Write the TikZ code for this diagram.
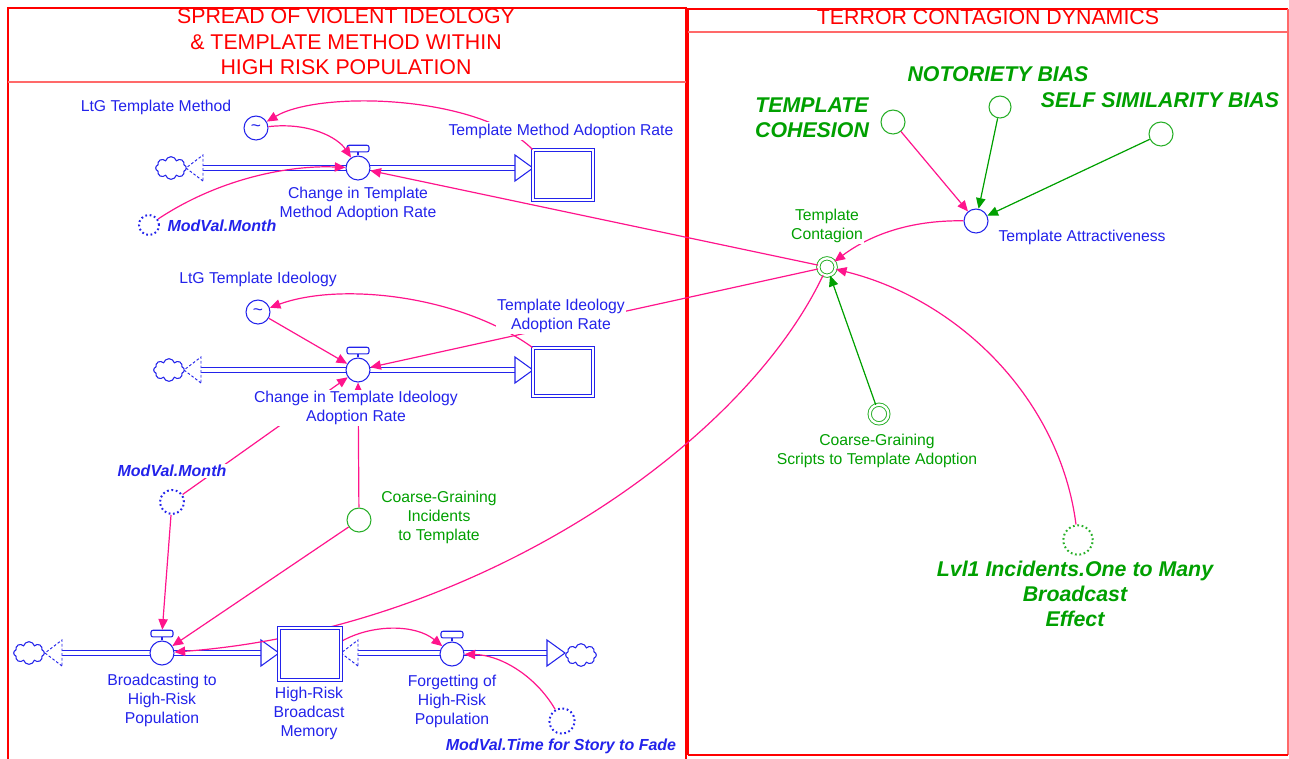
\documentclass[tikz,border=0pt]{standalone}
\usepackage{fontspec}
\setmainfont{Liberation Sans}
\usetikzlibrary{arrows.meta,shapes.symbols}

\definecolor{sdblue}{RGB}{35,35,235}
\definecolor{sdpink}{RGB}{255,20,140}
\definecolor{sdgreen}{RGB}{0,160,0}
\definecolor{sdlgreen}{RGB}{40,175,40}
\definecolor{sdred}{RGB}{255,0,0}
\definecolor{sdlred}{RGB}{255,105,105}

\tikzset{
  pics/srchead/.style={code={\draw[sdblue,line width=0.7pt,dash pattern=on 2pt off 1.5pt,fill=white] (0,-13) -- (-17,0) -- (0,13) -- cycle;}},
  pics/outhead/.style={code={\draw[sdblue,line width=0.8pt,fill=white] (0,-13) -- (18,0) -- (0,13) -- cycle;}}
}

% valve: circle plus handle
\newcommand{\valve}[3]{%
  \node[valve] (#1) at (#2,#3) {};
  \draw[stem] (#1.north) -- ++(0,-3) node[handle,anchor=south] (#1h) {};}

\begin{document}
\begin{tikzpicture}[x=0.75pt,y=0.75pt,yscale=-1,xscale=1,
  pipe/.style={draw=sdblue,line width=0.8pt,double=white,double distance=2.6pt},
  stem/.style={draw=sdblue,line width=0.8pt},
  handle/.style={draw=sdblue,fill=white,rounded corners=1.5pt,minimum width=16.5pt,minimum height=5pt,inner sep=0pt,line width=0.8pt},
  valve/.style={circle,draw=sdblue,fill=white,line width=0.8pt,minimum size=18pt,inner sep=0pt},
  stock/.style={draw=sdblue,double=white,double distance=1.8pt,line width=0.75pt,fill=white,inner sep=0pt},
  cloudy/.style={cloud,cloud puffs=8,aspect=1.4,draw=sdblue,fill=white,line width=0.8pt,minimum width=23pt,minimum height=17pt,inner sep=0pt},
  aux/.style={circle,draw=sdblue,fill=white,line width=0.8pt,minimum size=18pt,inner sep=0pt},
  gaux/.style={aux,draw=sdlgreen},
  gdouble/.style={circle,draw=sdlgreen,double=white,double distance=1.8pt,line width=0.7pt,minimum size=13pt,inner sep=0pt},
  ghost/.style={circle,draw=sdblue,line width=1.5pt,dash pattern=on 1.3pt off 2pt,minimum size=18pt,inner sep=0pt},
  link/.style={draw=sdpink,line width=0.9pt,-{Triangle[length=8pt,width=7pt]}},
  glink/.style={link,draw=sdgreen,fill=sdgreen},
  lbl/.style={text=sdblue,fill=white,inner sep=1pt,align=center,font=\fontsize{11.8}{14.2}\selectfont},
  glbl/.style={lbl,text=sdgreen},
  mv/.style={text=sdblue,fill=white,inner sep=1pt,font=\fontsize{12}{14}\selectfont\bfseries\itshape},
  big/.style={text=sdgreen,fill=white,inner sep=1pt,align=center,font=\fontsize{16}{19}\selectfont\bfseries\itshape},
  ttl/.style={text=sdred,align=center,font=\fontsize{16}{19.2}\selectfont}]
\useasboundingbox (0,0) rectangle (1289,758);

%Panels
\draw[sdred,line width=1.1pt] (8,775) -- (8,8) -- (686,8) -- (686,775);
\draw[sdlred,line width=1.1pt] (8,82) -- (686,82);
\draw[sdred,line width=1.1pt] (688,755) -- (688,9) -- (1288,9);
\draw[sdlred,line width=1.1pt] (688,32) -- (1288,32);
\draw[sdlred,line width=1pt] (1288,9) -- (1288,755);
\draw[sdred,line width=1.1pt] (688,755) -- (1288,755);

%Flow: template method
\coordinate (c1b) at (203,168);
\coordinate (s1b) at (515,168);
\draw[pipe] (c1b) -- (s1b);
\node[cloudy] (c1) at (171,168) {};
\pic at (c1b) {srchead};
\pic at (s1b) {outhead};
\node[stock,minimum width=45pt,minimum height=37.5pt] (s1) at (563,175) {};

%Flow: template ideology
\coordinate (c2b) at (201,370);
\coordinate (s2b) at (515,370);
\draw[pipe] (c2b) -- (s2b);
\node[cloudy] (c2) at (169,370) {};
\pic at (c2b) {srchead};
\pic at (s2b) {outhead};
\node[stock,minimum width=45pt,minimum height=36pt] (s2) at (563,372) {};

%Flow: broadcast memory
\coordinate (c3b) at (62,653);
\coordinate (s3a) at (261,653);
\coordinate (s3b) at (358,653);
\coordinate (c4b) at (547,653);
\draw[pipe] (c3b) -- (s3a);
\draw[pipe] (s3b) -- (c4b);
\node[cloudy] (c3) at (29,653) {};
\node[cloudy] (c4) at (581,655) {};
\pic at (c3b) {srchead};
\pic at (s3a) {outhead};
\pic at (s3b) {srchead};
\pic at (c4b) {outhead};
\node[stock,minimum width=46.5pt,minimum height=39pt] (s3) at (310,654) {};

%Valves
\valve{v1}{358}{168}
\valve{v2}{358}{370}
\valve{v3}{162}{653}
\valve{v4}{452}{654}

%Variables, left
\node[aux] (ltg1) at (256,128) {\fontsize{13}{13}\selectfont\textcolor{sdblue}{\textasciitilde}};
\node[aux] (ltg2) at (258,312) {\fontsize{13}{13}\selectfont\textcolor{sdblue}{\textasciitilde}};
\node[ghost,minimum size=15pt] (m1) at (149,225) {};
\node[ghost] (m2) at (172,502) {};
\node[ghost,minimum size=19pt] (m3) at (562,721) {};
\node[gaux] (cg1) at (359,520) {};

%Variables, right
\node[gdouble] (tc) at (827,267) {};
\node[aux] (ta) at (976,221) {};
\node[gaux] (coh) at (893,122) {};
\node[gaux,minimum size=16.5pt] (nb) at (1000,107) {};
\node[gaux] (ssb) at (1161,134) {};
\node[gdouble,minimum size=14pt] (cgs) at (879,414) {};
\node[ghost,draw=sdlgreen,minimum size=22pt] (lvl) at (1078,540) {};

%Links
\draw[link] (s1.north west) .. controls (480,95) and (320,90) .. (ltg1);
\draw[link] (ltg1) .. controls (310,122) and (338,138) .. (v1);
\draw[link] (m1) .. controls (220,178) and (290,165) .. (v1);
\draw[link] (tc) -- (v1);
\draw[link] (s2.north west) .. controls (460,295) and (340,282) .. (ltg2);
\draw[link] (ltg2) -- (v2);
\draw[link] (tc) -- (v2);
\draw[link] (cg1) -- (v2);
\draw[link] (m2) -- (v2);
\draw[link] (m2) -- (v3h);
\draw[link] (cg1) -- (v3);
\draw[link] (tc) .. controls (740,450) and (470,630) .. (v3);
\draw[link] (s3.22) .. controls (372,624) and (415,624) .. (v4);
\draw[link] (m3) .. controls (535,675) and (500,655) .. (v4);
\draw[link] (coh) -- (ta);
\draw[glink] (nb) -- (ta);
\draw[glink] (ssb) -- (ta);
\draw[link] (ta) .. controls (910,220) and (870,235) .. (tc);
\draw[glink] (cgs) -- (tc);
\draw[link] (lvl) .. controls (1060,400) and (960,300) .. (tc);

%Stock box drawn again over the link passing behind it
\node[stock,minimum width=46.5pt,minimum height=39pt] at (s3) {};

%Labels
\node[ttl] (t1) at (346,42) {SPREAD OF VIOLENT IDEOLOGY\\ \& TEMPLATE METHOD WITHIN\\ HIGH RISK POPULATION};
\node[ttl] (t2) at (988,17) {TERROR CONTAGION DYNAMICS};
\node[lbl] (ltg1l) at (156,107) {LtG Template Method};
\node[lbl] (s1l) at (561,131) {Template Method Adoption Rate};
\node[lbl] (v1l) at (358,204) {Change in Template\\Method Adoption Rate};
\node[mv,anchor=west] (m1l) at (166,226) {ModVal.Month};
\node[lbl] (ltg2l) at (258,279) {LtG Template Ideology};
\node[lbl] (s2l) at (561,316) {Template Ideology\\Adoption Rate};
\node[lbl] (v2l) at (356,408) {Change in Template Ideology\\Adoption Rate};
\node[mv] (m2l) at (172,471) {ModVal.Month};
\node[glbl] (cg1l) at (439,517) {Coarse-Graining\\Incidents\\to Template};
\node[lbl] (v3l) at (162,700) {Broadcasting to\\High-Risk\\Population};
\node[lbl] (s3l) at (309,713) {High-Risk\\Broadcast\\Memory};
\node[lbl] (v4l) at (452,701) {Forgetting of\\High-Risk\\Population};
\node[mv] (m3l) at (561,746) {ModVal.Time for Story to Fade};
\node[glbl] (tcl) at (827,226) {Template\\Contagion};
\node[lbl] (tal) at (1082,237) {Template Attractiveness};
\node[big] (cohl) at (812,118) {TEMPLATE\\COHESION};
\node[big] (nbl) at (998,74) {NOTORIETY BIAS};
\node[big] (ssbl) at (1160,100) {SELF SIMILARITY BIAS};
\node[glbl] (cgsl) at (877,451) {Coarse-Graining\\Scripts to Template Adoption};
\node[big] (lvll) at (1075,594) {Lvl1 Incidents.One to Many\\Broadcast\\Effect};
\end{tikzpicture}
\end{document}
